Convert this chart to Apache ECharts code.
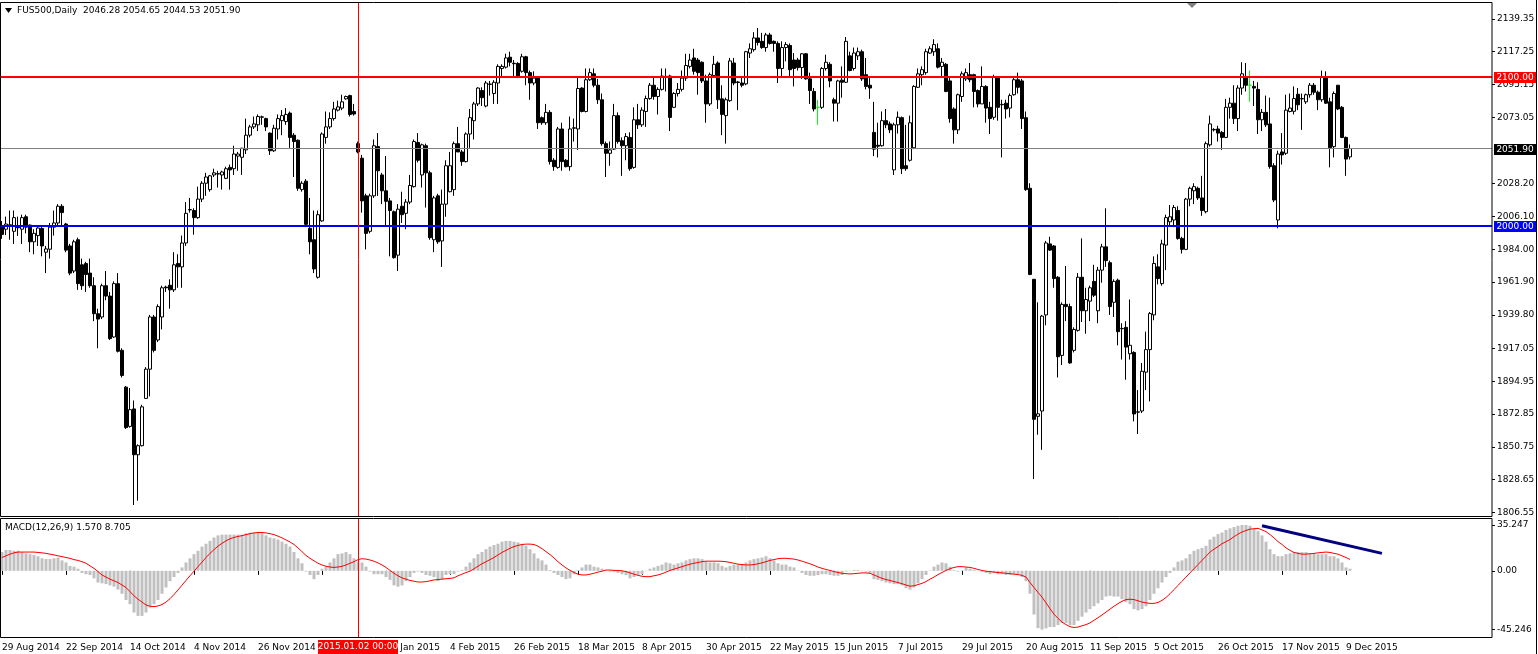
<!DOCTYPE html>
<html><head><meta charset="utf-8">
<script src="https://cdn.jsdelivr.net/npm/echarts@6/dist/echarts.min.js"></script>
<style>html,body{margin:0;padding:0;background:#fff;}#c{width:1538px;height:654px;}</style>
</head><body><div id="c"></div>
<script>
// ---- data (FUS500 Daily, 29 Aug 2014 .. 10 Dec 2015) ----
const opens=[2000.0,1997.5,2000.0,1996.1,2000.0,1997.5,2005.9,2000.3,1989.0,1993.2,
1998.0,1982.0,1984.0,1998.9,2001.7,2013.0,2001.0,1986.2,1969.3,1990.4,
1973.5,1974.3,1967.9,1959.4,1940.5,1938.3,1959.4,1952.4,1924.8,1960.8,
1915.8,1891.0,1864.5,1876.3,1845.4,1851.5,1883.4,1903.1,1938.3,1922.8,
1938.3,1958.5,1959.7,1956.6,1974.4,1972.1,1988.2,2010.5,2010.1,2005.3,
2017.8,2028.5,2024.2,2034.1,2034.7,2034.1,2031.8,2039.2,2038.3,2046.8,
2046.0,2051.0,2060.9,2066.5,2067.9,2073.0,2072.1,2062.3,2050.4,2065.1,
2070.7,2070.1,2075.8,2060.9,2057.5,2024.2,2029.9,1998.1,1990.4,1965.1,
2003.1,2059.4,2066.5,2072.1,2077.8,2079.2,2085.4,2087.6,2076.9,2055.2,
2045.4,2020.0,1996.1,2020.0,2053.2,2034.1,2023.4,2016.6,2009.3,1980.0,
2013.0,2008.2,2015.8,2026.2,2056.0,2034.1,2053.8,2035.5,1990.4,2020.0,
1989.6,2014.4,2022.8,2024.2,2055.2,2049.6,2043.1,2061.7,2070.7,2082.0,
2091.0,2080.6,2095.2,2089.0,2096.1,2105.9,2106.8,2113.5,2109.4,2109.3,
2104.0,2113.8,2103.1,2096.1,2099.4,2072.7,2069.3,2076.3,2044.0,2039.2,
2065.1,2044.0,2039.7,2065.6,2065.1,2092.7,2076.9,2098.3,2102.3,2094.6,
2084.8,2055.2,2048.7,2051.5,2074.1,2057.2,2053.8,2059.4,2039.2,2071.3,
2067.9,2076.9,2085.6,2094.6,2087.0,2091.8,2100.6,2100.8,2079.7,2089.0,
2091.8,2099.4,2107.3,2113.0,2111.6,2110.1,2097.5,2082.0,2101.1,2109.6,
2085.4,2074.1,2084.2,2109.6,2096.8,2096.1,2095.5,2116.3,2118.6,2126.5,
2124.2,2120.0,2128.5,2124.2,2122.8,2105.9,2120.0,2121.4,2111.6,2111.6,
2106.5,2115.8,2098.9,2090.4,2079.7,2079.7,2105.9,2108.7,2084.8,2082.5,
2098.0,2096.6,2114.4,2105.9,2114.4,2117.2,2101.7,2094.6,2062.8,2054.1,
2053.8,2070.7,2068.5,2037.5,2067.9,2072.7,2040.3,2044.0,2052.4,2093.2,
2101.7,2103.1,2116.3,2117.2,2119.2,2107.3,2108.7,2097.5,2078.6,2064.5,
2087.0,2098.9,2101.7,2101.7,2091.0,2082.0,2093.8,2079.7,2073.0,2099.4,
2081.4,2082.5,2079.2,2088.2,2098.3,2097.5,2072.7,2025.1,1963.7,1871.3,
1874.9,1939.7,1987.6,1986.2,1965.1,1912.4,1946.8,1945.3,1915.8,1929.3,
1965.1,1942.5,1949.0,1962.3,1942.5,1969.9,1985.6,1974.9,1948.2,1963.1,
1930.4,1931.3,1913.5,1914.4,1874.1,1874.9,1901.1,1916.3,1939.7,1972.1,
1960.8,1986.8,2002.5,2003.7,2010.1,1991.3,1983.9,2017.8,2023.4,2025.1,
2018.6,2009.3,2054.4,2064.5,2065.1,2062.8,2059.4,2079.7,2082.5,2072.1,
2092.7,2100.3,2094.6,2093.8,2091.8,2071.3,2076.3,2068.5,2040.3,2003.7,
2049.6,2048.7,2076.9,2077.0,2088.5,2085.4,2083.4,2088.2,2094.6,2089.9,
2084.8,2100.3,2083.4,2053.2,2094.6,2079.7,2059.4,2046.28];
const closes=[1994.0,2001.0,2000.5,2005.3,1998.5,2005.3,1998.9,1989.0,1994.7,1998.3,
1986.2,1984.2,1998.9,2001.7,2013.0,2008.7,1983.4,1967.9,1989.0,1960.8,
1959.4,1967.0,1959.4,1940.5,1936.9,1959.4,1952.4,1923.7,1960.8,1915.2,
1898.9,1863.7,1875.8,1845.4,1851.5,1877.7,1903.1,1938.3,1915.8,1945.3,
1958.0,1958.0,1956.6,1973.5,1972.1,1988.2,2008.2,2010.8,2005.3,2017.8,
2028.5,2032.7,2033.5,2035.5,2035.0,2036.1,2038.3,2037.5,2048.2,2048.2,
2052.1,2060.9,2066.5,2068.5,2073.5,2073.3,2066.5,2050.4,2065.6,2072.1,
2074.1,2074.9,2059.4,2056.6,2025.1,2028.5,2000.8,1989.0,1970.7,2007.3,
2061.7,2066.5,2072.1,2078.6,2080.0,2083.4,2087.0,2074.9,2075.2,2049.6,
2016.6,1994.7,2020.0,2053.8,2036.9,2023.4,2016.3,2010.1,1978.3,2011.0,
2007.3,2015.8,2027.0,2056.6,2044.0,2054.4,2035.5,1991.8,2018.6,1989.0,
2014.4,2040.3,2040.3,2055.2,2049.6,2043.1,2061.7,2072.7,2082.0,2092.7,
2086.2,2096.1,2095.4,2096.6,2107.3,2107.3,2113.0,2110.1,2109.1,2100.3,
2113.8,2103.1,2096.1,2099.4,2069.3,2069.3,2076.3,2043.1,2039.7,2065.1,
2043.1,2039.7,2065.1,2065.9,2092.4,2076.9,2098.3,2103.1,2094.6,2084.8,
2055.2,2048.7,2051.0,2074.1,2056.6,2053.8,2060.0,2038.3,2071.3,2067.9,
2077.8,2085.6,2094.6,2087.0,2091.8,2100.8,2100.4,2072.9,2089.0,2091.8,
2099.4,2107.9,2111.6,2104.0,2103.1,2097.5,2082.0,2101.7,2108.7,2084.8,
2074.9,2084.8,2111.0,2096.1,2096.4,2094.6,2117.2,2119.2,2126.5,2123.4,
2120.0,2128.5,2122.8,2122.8,2105.9,2120.0,2122.0,2105.1,2105.9,2106.5,
2115.8,2098.9,2091.0,2078.6,2079.7,2105.9,2110.1,2097.5,2082.5,2097.5,
2096.6,2124.2,2104.5,2116.3,2117.2,2098.9,2093.8,2092.7,2051.5,2053.5,
2070.7,2067.9,2064.5,2067.9,2073.0,2038.3,2038.3,2069.3,2093.8,2102.3,
2105.1,2117.2,2119.2,2122.0,2106.8,2110.1,2090.4,2072.1,2064.5,2088.2,
2102.3,2103.1,2098.3,2090.4,2082.0,2093.8,2079.2,2072.1,2100.3,2079.7,
2081.7,2078.6,2087.6,2098.3,2093.2,2072.1,2024.2,1967.0,1869.3,1873.0,
1938.9,1988.2,1983.4,1964.2,1911.5,1946.8,1945.3,1907.3,1929.9,1965.1,
1942.5,1950.1,1958.0,1953.0,1969.9,1985.6,1976.3,1945.3,1962.3,1928.4,
1930.6,1918.0,1919.2,1872.9,1874.3,1901.7,1916.3,1940.6,1974.4,1964.2,
1987.6,2005.3,2005.9,2012.1,1991.3,1983.9,2017.8,2025.1,2026.2,2018.6,
2010.1,2055.2,2068.5,2064.8,2062.3,2059.4,2079.7,2082.5,2072.1,2092.7,
2102.3,2094.6,2094.6,2092.7,2071.3,2076.3,2067.9,2039.7,2017.2,2048.2,
2047.6,2077.8,2079.2,2085.6,2081.4,2085.6,2088.2,2094.6,2089.9,2084.8,
2100.3,2082.5,2052.4,2089.0,2078.6,2059.4,2044.8,2051.90];
const lows=[1991.0,1993.5,1990.4,1987.6,1993.0,1987.6,1994.7,1982.0,1980.6,1986.2,
1979.2,1967.9,1977.7,1993.2,2000.3,2000.3,1982.0,1966.5,1967.9,1956.6,
1956.6,1955.2,1958.0,1935.5,1917.2,1936.9,1949.6,1922.8,1924.2,1914.4,
1897.5,1862.8,1863.7,1811.5,1814.4,1851.0,1883.4,1884.8,1914.4,1921.4,
1929.9,1955.2,1943.9,1955.2,1958.0,1958.0,1986.2,2008.7,1993.8,2004.5,
2015.8,2020.0,2022.8,2032.7,2025.6,2024.2,2031.3,2024.2,2034.1,2036.9,
2034.1,2048.2,2059.4,2065.1,2063.7,2067.9,2063.7,2047.6,2049.6,2058.0,
2060.9,2067.9,2052.4,2032.7,2023.4,2022.8,1998.9,1980.6,1967.9,1964.2,
2002.5,2055.2,2065.1,2070.7,2076.9,2077.8,2084.8,2073.5,2074.1,2048.7,
2008.7,1983.9,1994.7,2018.6,2020.0,2014.4,2000.3,1979.2,1977.7,1969.3,
2001.7,1997.5,2014.4,2025.6,2042.5,2025.6,2012.1,1990.4,1982.0,1987.6,
1972.1,2005.9,2022.3,2020.0,2049.6,2040.3,2042.5,2052.4,2058.0,2080.6,
2080.6,2079.7,2087.6,2082.0,2082.0,2100.3,2105.9,2107.3,2100.3,2099.4,
2103.1,2094.6,2084.8,2094.6,2065.1,2067.9,2067.9,2041.1,2036.9,2038.3,
2036.9,2039.2,2036.9,2056.6,2051.0,2076.3,2076.3,2097.5,2093.2,2082.0,
2053.8,2032.7,2040.3,2051.0,2055.2,2033.5,2044.0,2036.9,2038.3,2065.1,
2066.5,2066.5,2084.8,2084.8,2074.9,2091.0,2090.4,2063.7,2079.2,2087.0,
2090.4,2097.5,2105.9,2101.7,2088.2,2096.1,2069.3,2080.6,2100.3,2078.6,
2060.9,2055.2,2083.4,2094.6,2077.8,2093.2,2094.6,2113.0,2117.2,2121.4,
2119.2,2117.2,2122.0,2117.2,2096.1,2100.3,2110.7,2100.3,2093.8,2104.5,
2098.9,2098.3,2082.0,2076.9,2067.9,2078.6,2104.5,2093.2,2070.1,2070.1,
2086.2,2096.1,2104.0,2104.5,2111.6,2097.5,2091.8,2085.4,2046.8,2045.9,
2053.2,2065.6,2062.3,2034.1,2062.0,2034.7,2036.9,2043.1,2051.5,2092.7,
2094.6,2101.7,2115.8,2114.4,2105.9,2100.3,2089.9,2069.3,2055.2,2061.7,
2083.4,2097.5,2096.6,2079.7,2079.7,2082.0,2069.3,2061.7,2071.3,2070.7,
2045.9,2072.1,2073.0,2087.6,2089.0,2065.1,2023.4,1966.5,1829.0,1858.9,
1848.7,1932.7,1982.8,1958.0,1897.5,1905.9,1935.5,1906.8,1914.4,1928.4,
1934.9,1927.0,1935.5,1951.8,1934.1,1961.4,1972.1,1939.7,1938.3,1919.2,
1909.6,1896.0,1909.6,1867.9,1859.4,1873.5,1889.0,1881.4,1936.1,1960.3,
1959.4,1969.9,2000.3,1998.9,1990.4,1981.1,1983.4,2013.0,2014.4,2017.2,
2006.5,2008.2,2053.2,2063.4,2056.6,2051.0,2058.9,2072.1,2068.5,2063.7,
2088.2,2090.4,2083.4,2080.6,2061.7,2063.7,2066.5,2038.3,2015.8,1998.1,
2041.1,2047.6,2076.3,2074.9,2077.8,2064.5,2082.0,2086.2,2088.2,2077.8,
2083.4,2082.0,2039.2,2045.9,2077.8,2058.9,2033.5,2044.53];
const highs=[2003.0,2006.0,2010.1,2010.1,2006.0,2007.3,2007.3,2000.6,1997.5,1998.9,
1998.9,1986.2,2001.7,2010.1,2014.4,2014.4,2001.7,1987.6,1990.4,1991.8,
1977.7,1975.5,1977.7,1965.1,1943.9,1960.8,1969.3,1955.2,1962.3,1967.9,
1917.2,1891.8,1890.4,1882.0,1852.4,1879.1,1904.5,1939.7,1939.7,1946.8,
1959.4,1959.4,1963.7,1982.0,1980.6,1993.2,2015.8,2018.6,2011.6,2026.2,
2029.9,2035.5,2034.1,2038.3,2036.9,2036.9,2039.7,2041.1,2053.8,2049.6,
2052.4,2072.1,2067.9,2073.5,2074.9,2074.1,2072.7,2062.8,2067.9,2074.9,
2077.8,2079.2,2076.9,2062.3,2058.0,2029.9,2031.3,2018.6,2010.1,2010.1,
2062.8,2076.9,2076.3,2083.4,2084.2,2088.2,2087.6,2088.2,2082.0,2056.6,
2047.6,2021.4,2021.4,2058.0,2062.3,2035.5,2046.8,2018.6,2010.1,2014.4,
2022.8,2017.8,2034.1,2058.0,2062.3,2055.2,2055.2,2036.9,2020.0,2021.4,
2024.2,2044.0,2049.6,2056.6,2066.5,2051.0,2062.8,2078.6,2083.4,2093.2,
2093.2,2097.5,2097.5,2098.0,2108.7,2108.7,2115.8,2117.2,2111.6,2110.1,
2115.8,2114.4,2104.5,2104.0,2100.3,2073.5,2082.0,2077.8,2045.4,2066.5,
2069.3,2044.8,2073.5,2072.1,2100.3,2093.2,2105.9,2105.9,2105.9,2098.9,
2089.0,2056.6,2056.6,2082.0,2076.3,2059.4,2062.3,2062.8,2079.7,2082.0,
2079.7,2087.6,2096.1,2100.3,2093.2,2105.9,2105.9,2101.7,2089.9,2096.1,
2104.5,2115.8,2115.8,2119.2,2113.0,2110.7,2101.7,2103.1,2114.4,2110.7,
2094.6,2086.2,2113.0,2113.0,2097.5,2100.3,2117.8,2122.8,2130.4,2133.2,
2129.9,2129.9,2129.9,2124.8,2124.2,2124.2,2123.7,2122.8,2116.3,2113.0,
2116.3,2116.3,2103.1,2092.7,2084.8,2106.8,2115.2,2110.1,2086.2,2098.3,
2107.3,2127.1,2117.2,2120.0,2120.0,2118.6,2113.0,2099.4,2083.4,2069.3,
2076.9,2078.6,2070.1,2069.3,2076.9,2073.5,2067.9,2074.1,2094.6,2105.9,
2107.3,2119.2,2120.9,2125.6,2122.8,2113.0,2109.6,2100.3,2079.7,2089.0,
2103.9,2105.9,2109.6,2102.3,2091.8,2107.3,2094.6,2083.4,2101.7,2100.3,
2084.8,2084.8,2089.0,2099.4,2103.1,2098.9,2076.9,2028.5,1963.7,1948.2,
1939.7,1989.6,1992.4,1986.8,1965.9,1948.2,1972.7,1947.3,1931.3,1967.9,
1991.3,1958.0,1959.4,1973.5,1972.1,1987.6,2011.6,1976.3,1963.7,1964.2,
1934.1,1935.5,1950.1,1915.2,1889.0,1907.3,1928.4,1941.7,1979.2,1980.6,
1990.4,2007.3,2013.8,2013.8,2013.0,1992.4,2018.6,2026.2,2028.5,2026.2,
2033.5,2056.6,2074.1,2065.6,2067.3,2063.7,2085.4,2086.2,2094.6,2094.6,
2110.1,2109.6,2104.5,2097.5,2096.6,2078.6,2087.6,2086.2,2042.0,2050.4,
2062.3,2088.2,2089.0,2093.8,2092.7,2089.0,2089.0,2096.1,2096.1,2091.0,
2104.5,2104.0,2086.2,2090.4,2094.6,2080.6,2060.0,2054.65];
const macdMain=[14.4,16.0,16.0,15.4,15.4,14.4,13.4,12.8,12.2,11.2,
9.6,9.0,9.0,9.6,10.2,8.0,6.4,3.8,3.2,1.6,
-1.6,-2.6,-3.2,-5.8,-9.0,-9.6,-10.2,-11.2,-12.2,-14.4,
-17.6,-22.4,-25.6,-32.0,-34.6,-34.6,-32.0,-28.2,-25.6,-22.4,
-17.6,-12.8,-8.0,-4.8,-1.6,2.6,6.4,9.6,12.8,15.4,
18.6,20.8,23.0,25.6,27.2,27.8,27.8,27.8,27.8,27.8,
27.8,28.8,29.4,29.4,29.4,28.8,27.2,25.6,25.0,24.0,
22.4,20.8,18.6,14.4,9.6,5.8,-0.6,-3.2,-6.4,-3.2,
1.6,3.2,6.4,9.6,12.8,13.4,14.4,12.8,9.6,7.0,
6.4,3.2,-0.6,-2.6,-2.6,-2.6,-4.8,-7.0,-11.2,-12.2,
-11.2,-8.0,-4.8,-1.6,-0.6,-1.6,-3.2,-3.8,-4.8,-8.0,
-6.4,-3.2,-2.6,-2.6,-0.6,0.6,3.2,6.4,9.6,12.8,
14.4,16.6,18.6,19.8,20.8,22.4,23.0,23.0,22.4,21.8,
20.8,19.2,16.6,13.4,9.6,8.0,4.8,0.6,-1.6,-3.2,
-4.8,-6.4,-5.8,-2.6,0.6,2.6,4.8,4.8,3.2,2.6,
1.6,0.3,-0.6,-0.6,-1.6,-2.6,-3.2,-5.8,-4.8,-3.2,
-2.6,-0.3,1.6,2.6,3.8,4.8,6.4,5.8,4.8,5.8,
6.4,8.0,9.0,9.6,9.6,9.0,7.0,6.4,6.4,5.8,
3.8,2.6,3.8,4.8,4.8,4.8,6.4,8.0,9.0,9.6,
10.2,11.2,9.6,8.0,5.8,4.8,4.8,3.2,2.6,0.3,
-1.6,-3.2,-3.8,-3.8,-3.2,-2.6,-2.6,-3.2,-3.8,-3.8,
-3.2,-0.6,-0.3,0.6,0.6,-0.3,-0.6,-1.6,-6.4,-7.0,
-8.0,-9.0,-9.6,-10.2,-10.2,-11.2,-13.4,-14.4,-12.8,-9.6,
-6.4,-3.2,0.3,3.2,4.8,6.4,5.8,3.2,0.6,-0.6,
0.3,2.6,1.6,0.6,-0.3,-0.6,-1.6,-2.6,-1.6,-2.6,
-2.6,-3.2,-3.2,-2.6,-2.6,-4.8,-8.0,-17.6,-33.6,-44.0,
-45.2,-44.2,-43.2,-43.2,-41.6,-40.0,-40.0,-41.6,-41.6,-38.4,
-35.2,-32.0,-29.4,-27.2,-25.0,-22.4,-19.8,-19.2,-19.8,-19.8,
-21.8,-24.0,-25.6,-29.4,-30.4,-29.4,-27.2,-22.4,-17.6,-13.4,
-9.0,-4.8,-1.6,2.6,7.0,8.0,9.6,12.8,15.4,16.6,
17.6,19.2,24.0,26.2,28.2,29.4,31.4,32.6,33.6,34.6,
35.2,35.2,34.6,32.6,30.4,27.2,22.4,16.6,12.8,11.2,
11.2,12.8,13.4,14.4,14.4,14.4,14.4,13.4,13.4,12.8,
12.8,12.8,11.2,11.2,9.6,6.4,2.6,1.57];
const macdSignal=[10.2,11.5,12.8,13.8,14.4,14.4,14.4,14.4,14.4,14.1,
13.8,13.4,12.8,12.2,11.5,10.9,10.2,9.6,8.6,8.0,
7.0,5.8,3.8,1.9,-0.6,-3.2,-4.8,-6.4,-7.7,-9.0,
-10.9,-12.8,-16.0,-19.2,-21.8,-24.0,-26.2,-27.2,-27.5,-27.0,
-25.9,-24.0,-21.4,-18.2,-14.7,-11.0,-7.4,-3.8,-0.3,3.2,
6.7,10.2,13.4,16.3,18.9,21.1,23.0,24.6,25.6,26.4,
27.0,27.8,28.5,29.1,29.4,29.4,29.1,28.5,27.8,26.6,
25.3,23.7,22.1,20.2,17.6,14.7,11.8,9.6,7.7,5.8,
4.5,3.5,2.9,2.6,2.9,3.5,4.5,5.8,7.0,8.6,
9.3,9.0,8.3,7.4,6.1,4.5,2.6,0.3,-1.9,-3.8,
-5.4,-6.4,-7.4,-8.0,-8.6,-8.6,-8.3,-7.7,-7.0,-6.7,
-6.4,-6.1,-5.8,-5.4,-3.8,-2.6,-1.3,-0.3,1.6,3.5,
5.4,7.0,8.6,10.2,12.2,14.1,15.7,17.3,18.6,19.5,
20.2,20.5,20.5,20.2,18.9,17.0,14.7,12.5,9.9,7.0,
4.5,2.2,0.3,-1.3,-2.6,-3.2,-3.2,-2.6,-1.9,-1.0,
-0.3,0.6,0.6,0.3,0.3,0.0,-0.6,-1.6,-2.6,-3.5,
-4.2,-4.5,-4.5,-3.8,-3.2,-2.2,-1.0,0.3,1.3,2.2,
3.2,4.2,5.1,5.8,6.4,7.0,7.4,7.4,7.4,7.4,
7.3,7.0,6.4,5.8,5.1,4.8,4.5,4.5,4.8,5.4,
6.1,7.0,8.0,8.6,9.3,9.6,9.6,9.3,9.0,8.3,
7.4,6.4,5.4,4.2,2.9,1.9,1.0,0.3,-0.6,-1.3,
-1.9,-2.2,-2.4,-2.2,-1.9,-1.6,-1.6,-1.9,-3.2,-4.5,
-5.8,-6.7,-7.4,-8.3,-9.0,-9.9,-10.9,-11.8,-11.5,-10.6,
-9.6,-8.3,-6.4,-4.8,-2.9,-1.3,0.3,1.6,2.6,3.2,
3.2,2.9,2.6,1.9,1.0,0.3,-0.3,-0.6,-1.0,-1.3,
-1.6,-1.9,-2.2,-2.6,-2.9,-3.5,-4.8,-9.0,-12.8,-16.6,
-20.2,-24.6,-29.1,-33.3,-36.5,-39.4,-41.3,-42.9,-43.5,-43.2,
-42.2,-41.3,-40.0,-38.0,-36.0,-33.9,-31.7,-29.4,-27.2,-25.2,
-23.4,-22.1,-21.8,-22.1,-23.0,-24.0,-24.6,-25.0,-25.0,-24.3,
-22.7,-20.5,-17.6,-14.4,-11.2,-8.0,-4.8,-1.6,1.6,4.8,
8.0,11.2,14.4,16.6,18.6,20.8,22.4,24.0,26.2,28.2,
29.8,31.0,32.0,32.3,32.6,31.4,30.1,27.8,25.3,22.4,
20.2,17.6,15.7,14.1,13.4,12.8,12.8,13.1,13.4,13.8,
14.1,14.4,14.1,13.4,12.8,11.5,10.2,8.705];
const dateLabels=['29 Aug 2014','22 Sep 2014','14 Oct 2014','4 Nov 2014','26 Nov 2014','18 Dec 2014','13 Jan 2015','4 Feb 2015','26 Feb 2015','18 Mar 2015','8 Apr 2015','30 Apr 2015','22 May 2015','15 Jun 2015','7 Jul 2015','29 Jul 2015','20 Aug 2015','11 Sep 2015','5 Oct 2015','26 Oct 2015','17 Nov 2015','9 Dec 2015'];
const dateStep=16;
const priceTicks=[2139.35,2117.25,2095.15,2073.05,2028.20,2006.10,1984.00,1961.90,1939.80,1917.05,1894.95,1872.85,1850.75,1828.65,1806.55];
const macdTicks=[35.247,0,-45.246];
const resistance=2100.00, support=2000.00, bid=2051.90;
const greenDoji=[204,312];
const crossIdx=89, crossText='2015.01.02 00:00';
const trendLine=[[315,34.6],[345,13.4]];
const titleText='FUS500,Daily  2046.28 2054.65 2044.53 2051.90';
const macdText='MACD(12,26,9) 1.570 8.705';
const SLOTS=373;

// ---- build ----
const F='DejaVu Sans';
const cats=Array.from({length:SLOTS},(_,i)=>String(i));
const candles=opens.map((o,i)=>{
  const d={value:[o,closes[i],lows[i],highs[i]]};
  if(greenDoji.includes(i)) d.itemStyle={color:'#00ff00',color0:'#00ff00',borderColor:'#00ff00',borderColor0:'#00ff00'};
  return d;
});
const chart=echarts.init(document.getElementById('c'),null,{renderer:'canvas'});
const showDate=(i)=> i%dateStep===0 && i/dateStep<dateLabels.length;
chart.setOption({
  animation:false,
  backgroundColor:'#ffffff',
  grid:[
    {left:0,top:2,width:1492,height:514.5,show:false,containLabel:false,outerBoundsMode:'none'},
    {left:0,top:518,width:1492,height:119.5,show:false,containLabel:false,outerBoundsMode:'none'}
  ],
  xAxis:[
    {type:'category',gridIndex:0,data:cats,boundaryGap:true,axisLine:{show:false},axisTick:{show:false},axisLabel:{show:false},splitLine:{show:false}},
    {type:'category',gridIndex:1,data:cats,boundaryGap:true,
     axisLine:{show:false},
     axisTick:{show:true,alignWithLabel:true,length:4,interval:(i)=>showDate(i),lineStyle:{color:'#000'}},
     axisLabel:{show:true,interval:(i)=>showDate(i),formatter:(v,i)=>dateLabels[Math.round(i/dateStep)]||'',align:'left',margin:6,color:'#000',fontFamily:F,fontSize:9},
     splitLine:{show:false}}
  ],
  yAxis:[
    {type:'value',gridIndex:0,position:'right',min:1803.75,max:2150.73,
     axisLine:{show:false},
     axisTick:{show:true,length:3,customValues:priceTicks,lineStyle:{color:'#000'}},
     axisLabel:{show:true,customValues:priceTicks,formatter:(v)=>Number(v).toFixed(2),color:'#000',fontFamily:F,fontSize:9,margin:5},
     splitLine:{show:false}},
    {type:'value',gridIndex:1,position:'right',min:-51.2,max:40.55,
     axisLine:{show:false},
     axisTick:{show:true,length:3,customValues:macdTicks,lineStyle:{color:'#000'}},
     axisLabel:{show:true,customValues:macdTicks,formatter:(v)=>v===0?'0.00':String(v),color:'#000',fontFamily:F,fontSize:9,margin:5},
     splitLine:{show:false}}
  ],
  series:[
    {type:'candlestick',xAxisIndex:0,yAxisIndex:0,data:candles,barWidth:3,silent:true,
     itemStyle:{color:'#ffffff',color0:'#000000',borderColor:'#000000',borderColor0:'#000000',borderWidth:1},
     markLine:{silent:true,symbol:['none','none'],animation:false,label:{show:false},
       data:[
        {yAxis:bid,lineStyle:{color:'#808080',width:1,type:'solid'}},
        {yAxis:resistance,lineStyle:{color:'#ff0000',width:2,type:'solid'}},
        {yAxis:support,lineStyle:{color:'#0000ff',width:2,type:'solid'}},
        {xAxis:crossIdx,lineStyle:{color:'#ff0000',width:1,type:'solid'}}
       ]}},
    {type:'bar',xAxisIndex:1,yAxisIndex:1,data:macdMain,barWidth:3,silent:true,itemStyle:{color:'#c0c0c0'},
     markLine:{silent:true,symbol:['none','none'],animation:false,label:{show:false},
       data:[{xAxis:crossIdx,lineStyle:{color:'#ff0000',width:1,type:'solid'}}]}},
    {type:'line',xAxisIndex:1,yAxisIndex:1,data:macdSignal,showSymbol:false,silent:true,lineStyle:{color:'#ff0000',width:1},z:3},
    {type:'line',xAxisIndex:1,yAxisIndex:1,data:trendLine,showSymbol:false,silent:true,lineStyle:{color:'#000080',width:3},z:4}
  ]
});

// overlays placed through the chart's own scales
const yb=(v)=>chart.convertToPixel({yAxisIndex:0},v);
const xc=chart.convertToPixel({xAxisIndex:1},crossIdx);
const Z=1000;
function levelBox(v,bg){
  const y=Math.round(yb(v));
  return [
    {type:'rect',z:Z,shape:{x:1494,y:y-5,width:42,height:11},style:{fill:bg}},
    {type:'text',z:Z+1,style:{x:1515,y:y+0.5,text:v.toFixed(2),fill:'#fff',font:'9px "DejaVu Sans"',align:'center',verticalAlign:'middle'}}
  ];
}
chart.setOption({graphic:[
  {type:'rect',z:Z,shape:{x:0.5,y:2.5,width:1491.5,height:514},style:{fill:'none',stroke:'#000',lineWidth:1}},
  {type:'rect',z:Z,shape:{x:0.5,y:518.5,width:1491.5,height:119},style:{fill:'none',stroke:'#000',lineWidth:1}},
  {type:'line',z:Z,shape:{x1:1536.5,y1:0,x2:1536.5,y2:654},style:{stroke:'#000',lineWidth:1}},
  {type:'polygon',z:Z,shape:{points:[[5,8],[12,8],[8.5,13]]},style:{fill:'#000'}},
  {type:'text',z:Z,style:{x:17,y:11,text:titleText,fill:'#000',font:'9px "DejaVu Sans"',verticalAlign:'middle'}},
  {type:'text',z:Z,style:{x:5,y:528,text:macdText,fill:'#000',font:'9px "DejaVu Sans"',verticalAlign:'middle'}},
  {type:'polygon',z:Z,shape:{points:[[1187,3],[1197,3],[1192,8]]},style:{fill:'#808080'}},
  ...levelBox(resistance,'#ff0000'),
  ...levelBox(support,'#0000ff'),
  ...levelBox(bid,'#000000'),
  {type:'rect',z:Z,shape:{x:Math.round(xc)-40,y:640,width:80,height:14},style:{fill:'#ff0000'}},
  {type:'text',z:Z+1,style:{x:Math.round(xc),y:647,text:crossText,fill:'#fff',font:'9px "DejaVu Sans"',align:'center',verticalAlign:'middle'}}
]});
</script></body></html>
